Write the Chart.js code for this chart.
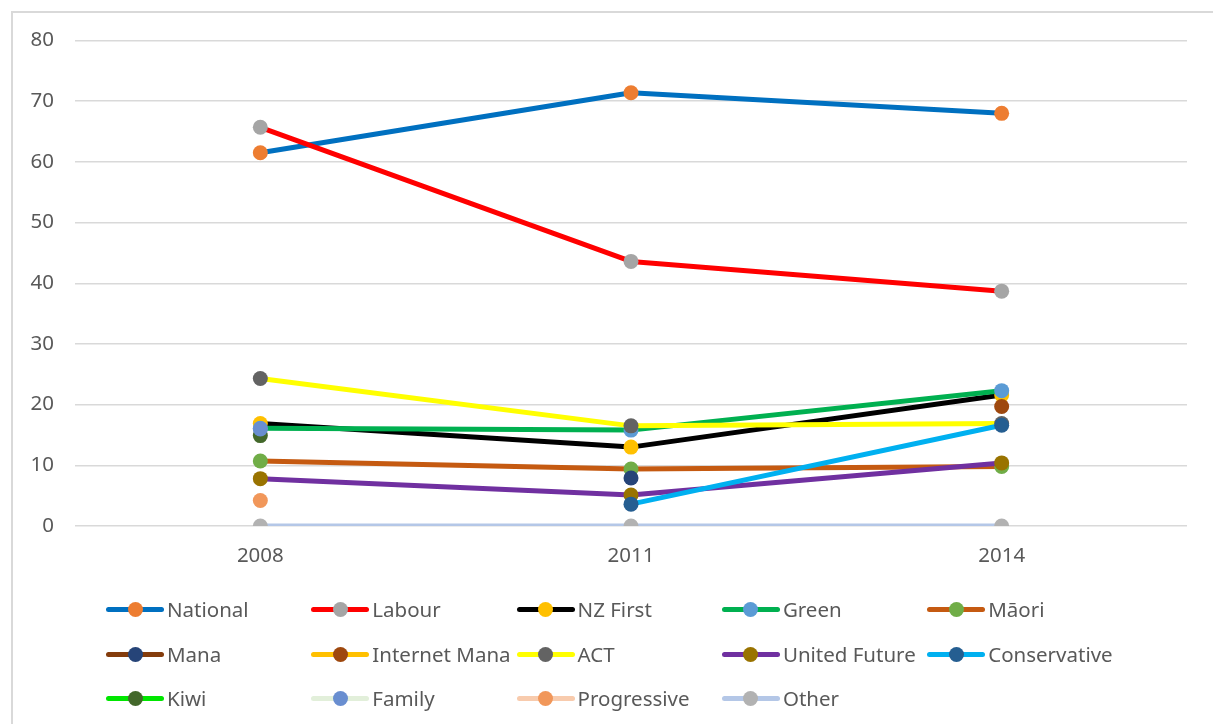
<!DOCTYPE html>
<html>
<head>
<meta charset="utf-8">
<script src="https://cdn.jsdelivr.net/npm/chart.js@4"></script>
<style>
  html,body{margin:0;padding:0;background:#fff;}
  body{width:1213px;height:724px;overflow:hidden;position:relative;font-family:"Noto Sans",sans-serif;}
  #frame{position:absolute;left:11px;top:11px;width:1240px;height:760px;border:2px solid #d9d9d9;box-sizing:border-box;}
  #wrap{position:absolute;left:0;top:0;width:1213px;height:590px;}
  #legend{position:absolute;left:0;top:0;width:1213px;height:724px;pointer-events:none;}
  .item{position:absolute;height:30px;display:flex;align-items:center;color:#595959;font-size:20.5px;white-space:nowrap;}
  .sw{position:relative;width:58px;height:5px;border-radius:3px;margin-right:3px;}
  .dot{position:absolute;left:21.5px;top:-5px;width:15px;height:15px;border-radius:50%;}
</style>
</head>
<body>
<div id="frame"></div>
<div id="wrap"><canvas id="c"></canvas></div>
<div id="legend"></div>
<script>
const years=["2008","2011","2014"];
const parties=["National","Labour","NZ First","Green","Māori","Mana","Internet Mana","ACT","United Future","Conservative","Kiwi","Family","Progressive","Other"];

const national=[61.5,71.4,68.0];
const labour=[65.7,43.6,38.7];
const nzFirst=[16.9,13.0,21.6];
const green=[16.1,15.8,22.3];
const maori=[10.7,9.4,9.8];
const mana=[null,7.9,null];
const internetMana=[null,null,19.7];
const act=[24.3,16.5,16.9];
const unitedFuture=[7.8,5.1,10.4];
const conservative=[null,3.6,16.6];
const kiwi=[14.9,null,null];
const family=[16.0,null,null];
const progressive=[4.2,null,null];
const other=[0,0,0];

const series=[national,labour,nzFirst,green,maori,mana,internetMana,act,unitedFuture,conservative,kiwi,family,progressive,other];

const lineColors=["#0070C0","#FF0000","#000000","#00B050","#C55A11","#843C0C","#FFC000","#FFFF00","#7030A0","#00B0F0","#00E600","#E2EFDA","#F8CBAD","#B4C7E7"];
const dotColors=["#ED7D31","#A5A5A5","#FFC000","#5B9BD5","#70AD47","#264478","#9E480E","#636363","#997300","#255E91","#43682B","#698ED0","#F1975A","#B2B2B2"];

const n=series.length;
// excel draws later series on top, chart.js the other way round -> flip with order
const datasets=series.map((d,i)=>({
  label:parties[i],
  data:d,
  order:n-i,
  borderColor:lineColors[i],
  backgroundColor:dotColors[i],
  borderWidth:5,
  borderCapStyle:"round",
  borderJoinStyle:"round",
  tension:0,
  pointRadius:7.5,
  pointBorderWidth:0,
  pointBackgroundColor:dotColors[i],
  pointBorderColor:dotColors[i],
  spanGaps:false
}));

new Chart(document.getElementById("c"),{
  type:"line",
  data:{labels:years,datasets},
  options:{
    responsive:true,
    maintainAspectRatio:false,
    animation:false,
    layout:{padding:{top:40.5,right:26,left:0,bottom:4}},
    plugins:{legend:{display:false},tooltip:{enabled:false}},
    scales:{
      x:{
        offset:true,
        grid:{display:false,drawTicks:false},
        border:{display:false},
        ticks:{color:"#595959",font:{family:"Noto Sans",size:20.5},padding:18,maxRotation:0},
        afterFit:(s)=>{s.height=60;}
      },
      y:{
        min:0,max:80,
        grid:{color:"#d9d9d9",lineWidth:1.5,drawTicks:false},
        border:{display:false},
        ticks:{stepSize:10,color:"#595959",font:{family:"Noto Sans",size:20.5},padding:21},
        afterFit:(s)=>{s.width=75;}
      }
    }
  }
});

// legend like excel: line with marker, 5 columns
const legend=document.getElementById("legend");
const colX=[106,311.3,516.6,721.9,927.2];
const rowY=[609,654,698];
parties.forEach((p,i)=>{
  const el=document.createElement("div");
  el.className="item";
  el.style.left=colX[i%5]+"px";
  el.style.top=(rowY[Math.floor(i/5)]-15)+"px";
  el.innerHTML='<span class="sw" style="background:'+lineColors[i]+'"><span class="dot" style="background:'+dotColors[i]+'"></span></span>'+p;
  legend.appendChild(el);
});
</script>
</body>
</html>
